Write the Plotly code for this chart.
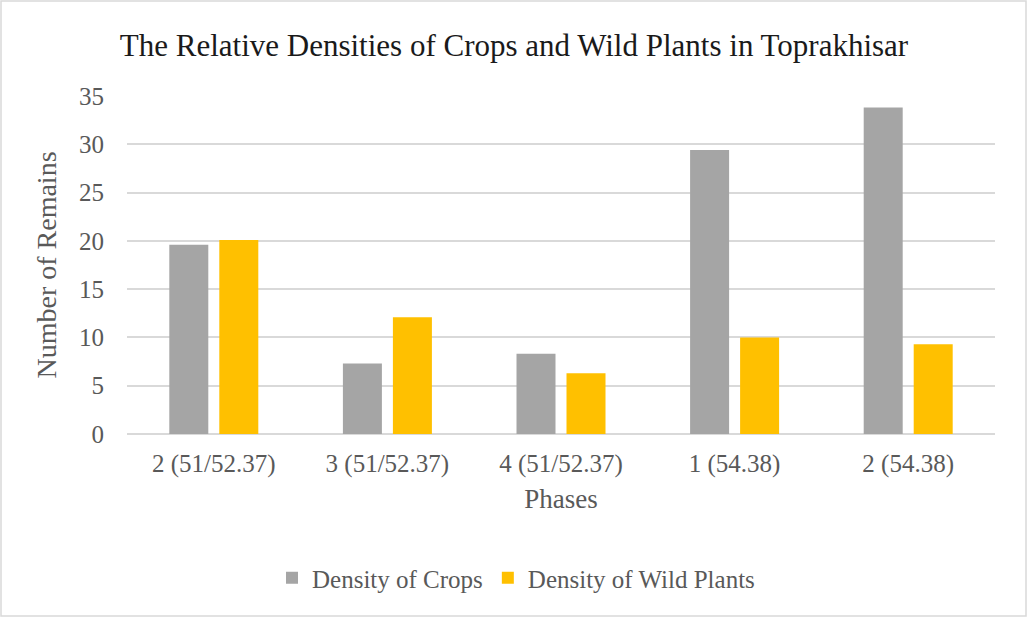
import plotly.graph_objects as go

# Phases (categories on the x axis)
phases = ["2 (51/52.37)", "3 (51/52.37)", "4 (51/52.37)", "1 (54.38)", "2 (54.38)"]

# Series values
crops = [19.6, 7.3, 8.3, 29.4, 33.8]
wild_plants = [20.1, 12.1, 6.3, 10.0, 9.3]

y_ticks = [0, 5, 10, 15, 20, 25, 30, 35]

W, H = 1028, 618
ML, MR, MT, MB = 127, 33, 96, 184
PW, PH = W - ML - MR, H - MT - MB

font_family = "Liberation Serif, Times New Roman, serif"
text_grey = "#595959"

fig = go.Figure()
fig.add_trace(go.Bar(x=phases, y=crops, name="Density of Crops",
                     marker=dict(color="#a5a5a5", line=dict(width=0))))
fig.add_trace(go.Bar(x=phases, y=wild_plants, name="Density of Wild Plants",
                     marker=dict(color="#ffc000", line=dict(width=0))))

fig.update_layout(
    width=W, height=H,
    margin=dict(l=ML, r=MR, t=MT, b=MB),
    paper_bgcolor="white", plot_bgcolor="white",
    barmode="group", bargap=0.424, bargroupgap=0.22,
    font=dict(family=font_family, color=text_grey, size=25),
    title=dict(text="The Relative Densities of Crops and Wild Plants in Toprakhisar",
               x=0.5, xref="container", xanchor="center",
               y=1 - 45 / H, yref="container", yanchor="middle",
               font=dict(family=font_family, size=31, color="#1a1a1a")),
    legend=dict(orientation="h", x=(516 - ML) / PW, xanchor="center",
                y=(H - MB - 578) / PH, yanchor="middle",
                font=dict(size=25, color=text_grey), itemwidth=30,
                traceorder="normal"),
    showlegend=True,
)

fig.update_xaxes(
    showgrid=False, showline=False, zeroline=False, ticks="",
    ticklabelstandoff=12,
    title=dict(text="Phases", standoff=12, font=dict(size=27, color=text_grey)),
    tickfont=dict(size=25, color=text_grey),
)
fig.update_yaxes(
    range=[0, 35], tickvals=y_ticks, showgrid=True, gridcolor="#d9d9d9", gridwidth=1.5,
    zeroline=True, zerolinecolor="#d9d9d9", zerolinewidth=1.5, showline=False,
    ticks="", ticklabelstandoff=22,
    title=dict(text="Number of Remains", standoff=14, font=dict(size=28, color=text_grey)),
    tickfont=dict(size=25, color=text_grey),
)

# light grey frame around the whole chart
fig.add_shape(type="rect", xref="paper", yref="paper",
              x0=(1 - ML) / PW, x1=(W - 2 - ML) / PW,
              y0=-(H - 2 - MT - PH) / PH, y1=1 + (MT - 1) / PH,
              line=dict(color="#d9d9d9", width=1.5), fillcolor="rgba(0,0,0,0)",
              layer="below")

fig.write_html("out.html", config={"displayModeBar": False},
               post_script="document.body.style.margin='0';")
